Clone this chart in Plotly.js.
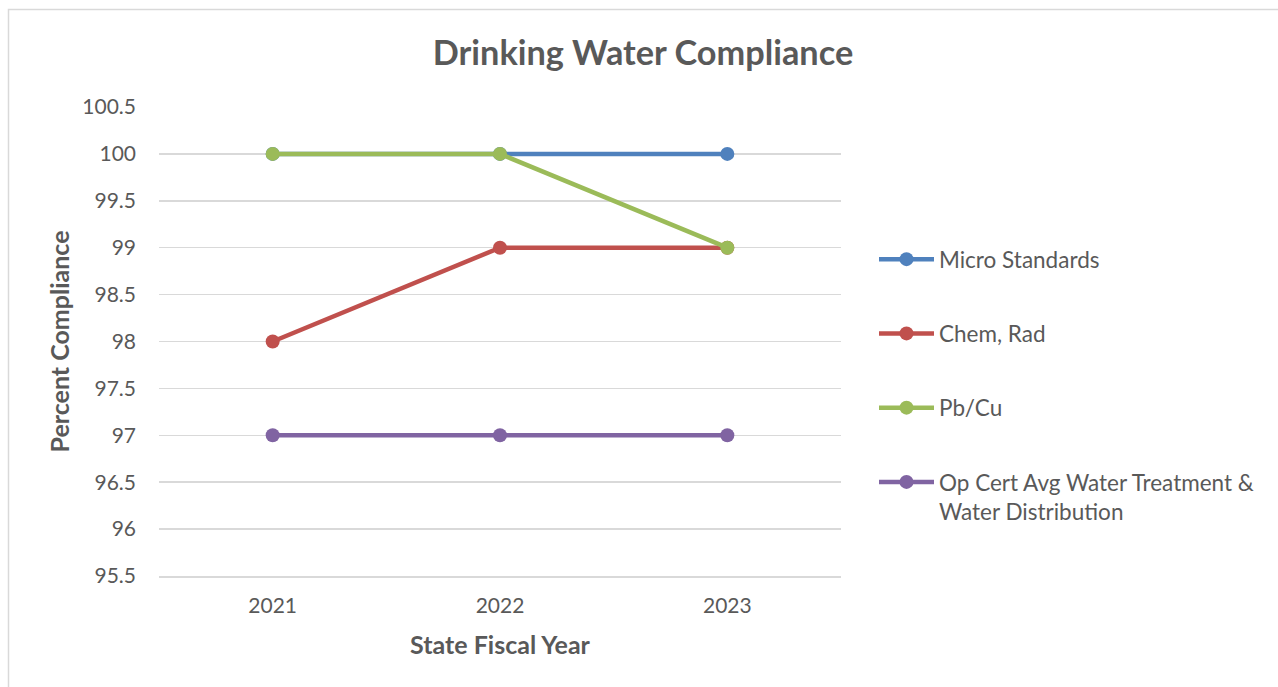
<!DOCTYPE html>
<html>
<head>
<meta charset="utf-8">
<script src="https://cdn.plot.ly/plotly-3.0.1.min.js"></script>
<style>html,body{margin:0;padding:0;background:#fff;}#chart{width:1278px;height:687px;}</style>
</head>
<body>
<div id="chart"></div>
<script>
const years = ["2021", "2022", "2023"];
const microStandards = [100, 100, 100];
const chemRad = [98, 99, 99];
const pbCu = [100, 100, 99];
const opCert = [97, 97, 97];
const seriesNames = ["Micro Standards", "Chem, Rad", "Pb/Cu", "Op Cert Avg Water Treatment &<br>Water Distribution"];
const seriesColors = ["#4f81bd", "#c0504d", "#9bbb59", "#8064a2"];
const seriesValues = [microStandards, chemRad, pbCu, opCert];
const yTicks = [95.5, 96, 96.5, 97, 97.5, 98, 98.5, 99, 99.5, 100, 100.5];

const FONT = "Lato, 'Open Sans', sans-serif";
const traces = seriesValues.map((vals, i) => ({
  type: "scatter",
  mode: "lines+markers",
  x: years,
  y: vals,
  name: seriesNames[i],
  legendgroup: "g" + i,
  line: {color: seriesColors[i], width: 4.5},
  marker: {color: seriesColors[i], size: 14},
  cliponaxis: false
}));

const L = 159, R = 841, T = 107, B = 576;
const px2x = p => (p - L) / (R - L);
const px2y = p => (B - p) / (B - T);

const layout = {
  width: 1278, height: 687,
  margin: {l: L, r: 1278 - R, t: T, b: 687 - B},
  paper_bgcolor: "#ffffff",
  plot_bgcolor: "#ffffff",
  font: {family: FONT, color: "#595959", size: 21},
  title: {
    text: "<b>Drinking Water Compliance</b>",
    font: {family: FONT, size: 34.3, color: "#595959"},
    x: 643 / 1278, xref: "container", xanchor: "center",
    y: 1 - 53 / 687, yref: "container", yanchor: "middle"
  },
  xaxis: {
    type: "category",
    range: [-0.5, 2.5],
    showgrid: false,
    showline: true,
    linecolor: "#d9d9d9",
    linewidth: 1.5,
    ticks: "",
    tickfont: {family: FONT, size: 21, color: "#595959"},
    ticklabelstandoff: 10,
    zeroline: false,
    title: {text: "<b>State Fiscal Year</b>", font: {family: FONT, size: 25, color: "#595959"}, standoff: 21}
  },
  yaxis: {
    range: [95.5, 100.5],
    tickvals: yTicks,
    ticktext: yTicks.map(String),
    showgrid: true,
    gridcolor: "#d9d9d9",
    gridwidth: 1.5,
    zeroline: false,
    showline: false,
    ticks: "",
    tickfont: {family: FONT, size: 21, color: "#595959"},
    ticklabelstandoff: 22,
    title: {text: "<b>Percent Compliance</b>", font: {family: FONT, size: 25, color: "#595959"}, standoff: 5}
  },
  showlegend: true,
  legend: {
    x: px2x(874), xanchor: "left",
    y: px2y(238), yanchor: "top",
    font: {family: FONT, size: 22.5, color: "#595959"},
    tracegroupgap: 42,
    valign: "top",
    bgcolor: "rgba(0,0,0,0)",
    itemwidth: 55
  },
  shapes: [{
    type: "rect", xref: "paper", yref: "paper",
    x0: px2x(8.5), x1: px2x(1300), y0: px2y(710), y1: px2y(9.5),
    line: {color: "#d9d9d9", width: 1.5}, fillcolor: "rgba(0,0,0,0)", layer: "below"
  }]
};

Plotly.newPlot("chart", traces, layout, {displayModeBar: false, staticPlot: true});
</script>
</body>
</html>
